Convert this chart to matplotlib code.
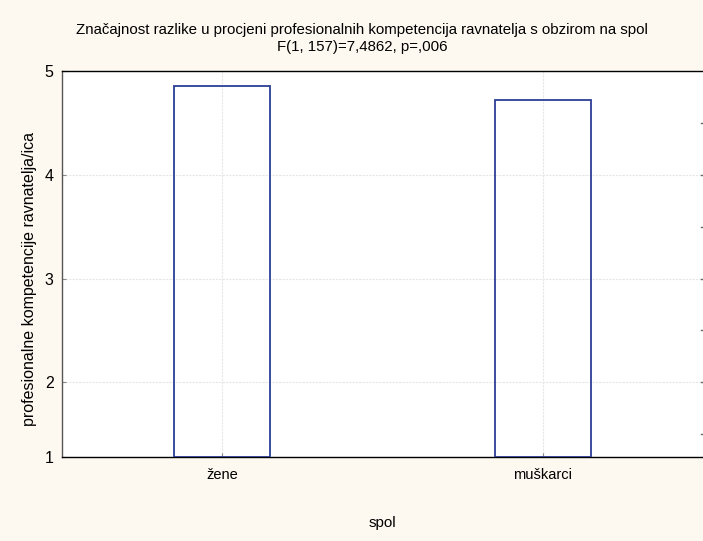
import matplotlib
matplotlib.use("Agg")
import matplotlib.pyplot as plt
import numpy as np

categories = ["žene", "muškarci"]
values = [4.855, 4.72]
yticks = [1, 2, 3, 4, 5]
minor_right = [1.5, 2, 2.5, 3, 3.5, 4, 4.5]

plt.rcParams['font.family'] = ['Liberation Sans', 'DejaVu Sans']
bg = "#FDF9F0"
fig = plt.figure(figsize=(7.03, 5.41), dpi=100, facecolor=bg)
ax = fig.add_axes([62/703, 1 - 457/541, 641/703, (457-71)/541])
ax.set_facecolor("white")

ymin = 1.28
x = np.arange(len(categories))
ax.bar(x, np.array(values) - ymin, bottom=ymin, width=0.3, facecolor="none",
       edgecolor="#2B3F95", linewidth=1.3, zorder=3)
ax.set_xlim(-0.5, 1.5)
ax.set_ylim(ymin, 5)
ax.set_yticks([ymin] + yticks[1:])
ax.set_yticklabels([str(t) for t in yticks])
ax.set_xticks(x)
ax.set_xticklabels(categories, fontsize=10.5)
ax.tick_params(axis='y', labelsize=11.5, length=3, direction='in', color='#888888', pad=6)
ax.tick_params(axis='x', length=3, direction='in', color='#888888', pad=8)
ax.grid(True, color="#e6e6e6", linestyle=(0, (2, 1)), linewidth=0.8, zorder=0)
for s in ["top", "left", "bottom"]:
    ax.spines[s].set_color("black")
    ax.spines[s].set_linewidth(1.0)
ax.spines["left"].set_color("#555555")

# right-side small ticks
for yv in minor_right:
    ax.plot([1.495, 1.5], [yv, yv], color="#666666", linewidth=1, clip_on=False)
ax.spines["right"].set_visible(False)

ax.set_ylabel("profesionalne kompetencije ravnatelja/ica", fontsize=11.5)
ax.yaxis.set_label_coords(-25/641, (457 - 279) / 386)
ax.set_xlabel("spol", fontsize=11)
ax.xaxis.set_label_coords(0.5, -(516 - 457) / 386)
fig.text(362/703, 1 - 30/541, "Značajnost razlike u procjeni profesionalnih kompetencija ravnatelja s obzirom na spol",
         ha="center", va="center", fontsize=10.8)
fig.text(362/703, 1 - 47/541, "F(1, 157)=7,4862, p=,006", ha="center", va="center", fontsize=10.8)

fig.savefig("out.png", dpi=100, facecolor=bg)
